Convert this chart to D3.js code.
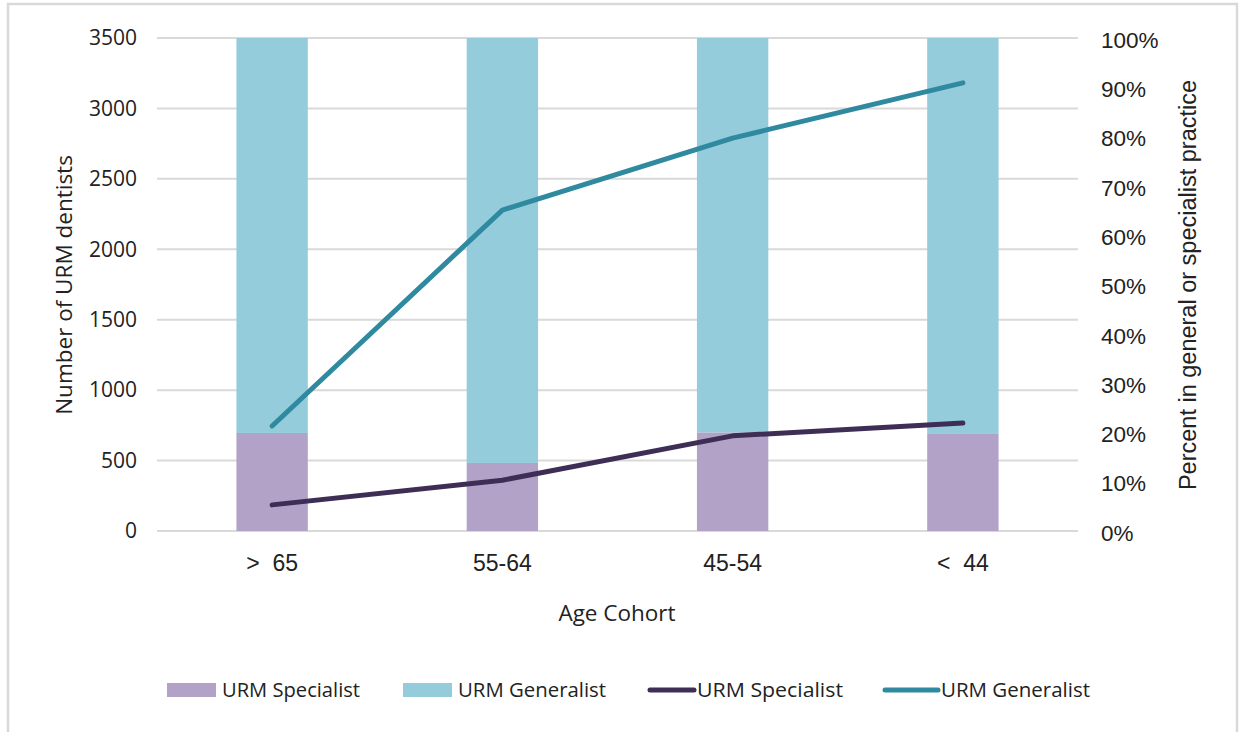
<!DOCTYPE html>
<html><head><meta charset="utf-8">
<script src="https://cdn.jsdelivr.net/npm/d3@7"></script>
<style>
html,body{margin:0;padding:0;background:#fff;}
svg{display:block;}
</style></head>
<body>
<script>
// ---- data ----
const categories = ["> 65", "55-64", "45-54", "< 44"];
const specialistCount = [696, 483, 700, 689];
const generalistCount = [3100, 3400, 3650, 3900];
const specialistPct = [0.053, 0.103, 0.193, 0.219];
const generalistPct = [0.213, 0.651, 0.797, 0.909];
const leftTicks = [0, 500, 1000, 1500, 2000, 2500, 3000, 3500];
const rightTicks = [0, 0.1, 0.2, 0.3, 0.4, 0.5, 0.6, 0.7, 0.8, 0.9, 1.0];
const legendLabels = ["URM Specialist", "URM Generalist", "URM Specialist", "URM Generalist"];

const W = 1244, H = 732;
const colSpecBar = "#b3a2c8", colGenBar = "#94ccdc", colSpecLine = "#3e2d55", colGenLine = "#2f8aa0";
const m = {left: 157, right: 1078, top: 38, bottom: 531};

const svg = d3.select("body").append("svg").attr("width", W).attr("height", H);

// border
svg.append("rect").attr("x", 8).attr("y", 4).attr("width", 1229).attr("height", 760)
  .attr("fill", "#fff").attr("stroke", "#d9d9d9").attr("stroke-width", 2.5);

const x = d3.scaleBand().domain(categories).range([m.left, m.right]).paddingInner(0.69).paddingOuter(0.345);
const y = d3.scaleLinear().domain([0, 3500]).range([m.bottom, m.top]);
const y2 = d3.scaleLinear().domain([0, 1]).range([m.bottom, m.top]);

// gridlines
svg.append("g").selectAll("line").data(leftTicks).join("line")
  .attr("x1", m.left).attr("x2", m.right)
  .attr("y1", d => y(d)).attr("y2", d => y(d))
  .attr("stroke", "#d9d9d9").attr("stroke-width", 2);

// clip
svg.append("clipPath").attr("id", "plotclip").append("rect")
  .attr("x", m.left).attr("y", m.top).attr("width", m.right - m.left).attr("height", m.bottom - m.top);

const stackData = categories.map((c, i) => ({cat: c, spec: specialistCount[i], gen: generalistCount[i]}));
const stack = d3.stack().keys(["spec", "gen"])(stackData);
const barColors = {spec: colSpecBar, gen: colGenBar};
const gBars = svg.append("g").attr("clip-path", "url(#plotclip)");
stack.forEach(layer => {
  gBars.append("g").selectAll("rect").data(layer).join("rect")
    .attr("x", d => x(d.data.cat))
    .attr("width", x.bandwidth())
    .attr("y", d => y(d[1]))
    .attr("height", d => y(d[0]) - y(d[1]))
    .attr("fill", barColors[layer.key]);
});

// lines
const line = d3.line().x((d, i) => x(categories[i]) + x.bandwidth() / 2).y(d => y2(d));
svg.append("path").datum(specialistPct).attr("d", line)
  .attr("fill", "none").attr("stroke", colSpecLine).attr("stroke-width", 5)
  .attr("stroke-linecap", "round").attr("stroke-linejoin", "round");
svg.append("path").datum(generalistPct).attr("d", line)
  .attr("fill", "none").attr("stroke", colGenLine).attr("stroke-width", 5)
  .attr("stroke-linecap", "round").attr("stroke-linejoin", "round");

// left axis
const leftAxis = d3.axisLeft(y).tickValues(leftTicks).tickFormat(d3.format("d")).tickSize(0).tickPadding(20);
const gl = svg.append("g").attr("transform", `translate(${m.left},0)`).call(leftAxis);
gl.select(".domain").remove();
gl.selectAll("text").attr("font-family", "'Open Sans', sans-serif").attr("font-size", 21).attr("fill", "#222");

// right axis
const rightAxis = d3.axisRight(y2).tickValues(rightTicks).tickFormat(d3.format(".0%")).tickSize(0).tickPadding(23);
const gr = svg.append("g").attr("transform", `translate(${m.right},2)`).call(rightAxis);
gr.select(".domain").remove();
gr.selectAll("text").attr("font-family", "'Liberation Sans', Arial, sans-serif").attr("font-size", 22.5).attr("fill", "#222");

// x axis
const xAxis = d3.axisBottom(x).tickSize(0).tickPadding(24);
const gx = svg.append("g").attr("transform", `translate(0,${m.bottom})`).call(xAxis);
gx.select(".domain").remove();
gx.selectAll("text").attr("font-family", "'Liberation Sans', Arial, sans-serif").attr("font-size", 23).attr("fill", "#222")
  .attr("xml:space", "preserve").style("white-space", "pre")
  .text(d => d.replace(" ", "  "));

// axis titles
svg.append("text").attr("x", 617).attr("y", 621).attr("text-anchor", "middle")
  .attr("font-family", "'Open Sans', sans-serif").attr("font-size", 22.5).attr("fill", "#222").text("Age Cohort");
svg.append("text").attr("transform", "translate(72,285) rotate(-90)").attr("text-anchor", "middle")
  .attr("font-family", "'Open Sans', sans-serif").attr("font-size", 22.5).attr("fill", "#222").text("Number of URM dentists");
svg.append("text").attr("transform", "translate(1196,285) rotate(-90)").attr("text-anchor", "middle")
  .attr("font-family", "'Liberation Sans', Arial, sans-serif").attr("font-size", 23.5).attr("fill", "#222").text("Percent in general or specialist practice");

// legend
const legendItems = [
  {type: "rect", color: colSpecBar, sx: 167, tx: 222, tw: 138},
  {type: "rect", color: colGenBar, sx: 403, tx: 458, tw: 148},
  {type: "line", color: colSpecLine, sx: 650, tx: 697, tw: 146},
  {type: "line", color: colGenLine, sx: 885, tx: 941, tw: 149}
];
const lg = svg.append("g");
legendItems.forEach((it, i) => {
  if (it.type === "rect") {
    lg.append("rect").attr("x", it.sx).attr("y", 683).attr("width", 49).attr("height", 14).attr("fill", it.color);
  } else {
    lg.append("line").attr("x1", it.sx).attr("x2", it.tx - 3).attr("y1", 690).attr("y2", 690)
      .attr("stroke", it.color).attr("stroke-width", 5).attr("stroke-linecap", "round");
  }
  lg.append("text").attr("x", it.tx).attr("y", 697)
    .attr("font-family", "'Open Sans', sans-serif").attr("font-size", 20).attr("fill", "#222")
    .attr("textLength", it.tw).attr("lengthAdjust", "spacingAndGlyphs")
    .text(legendLabels[i]);
});
</script>
</body></html>
